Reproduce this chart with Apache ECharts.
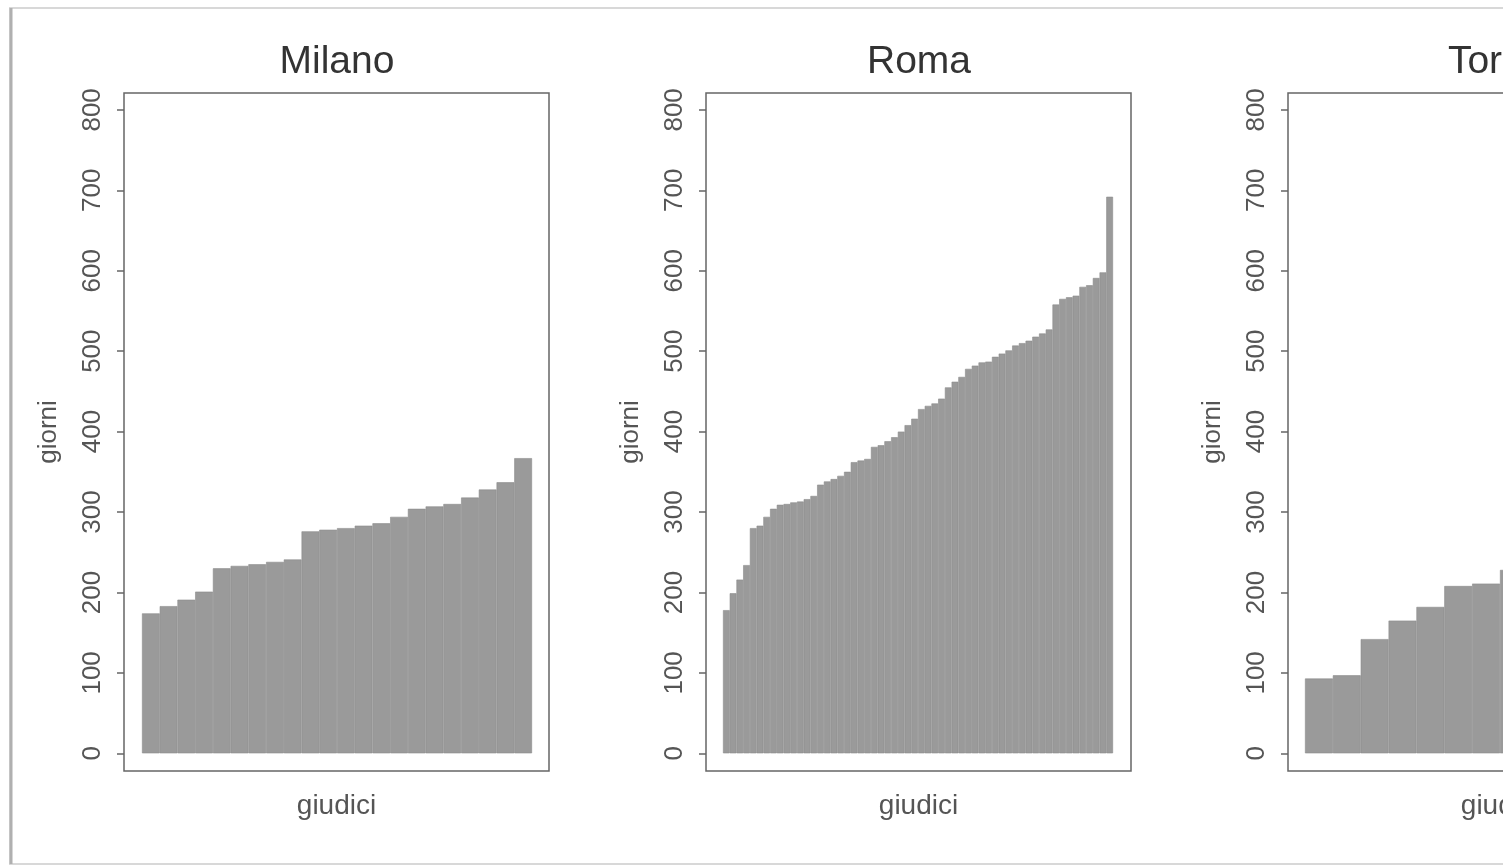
<!DOCTYPE html>
<html>
<head>
<meta charset="utf-8">
<script src="https://cdn.jsdelivr.net/npm/echarts@6/dist/echarts.min.js"></script>
<style>
  html, body { margin: 0; padding: 0; background: #fff; overflow: hidden; }
  /* the figure is wider than the window: Torino is cut off on the right */
  #box { width: 1800px; height: 867px; }
</style>
</head>
<body>
<div id="box"></div>
<script>
var titles = ['Milano', 'Roma', 'Torino'];
var yTicks = [0, 100, 200, 300, 400, 500, 600, 700, 800];

var milano = [174, 183, 191, 201, 230, 233, 235, 238, 241, 276, 278, 280, 283, 286,
              294, 304, 307, 310, 318, 328, 337, 367];
var roma = [178, 199, 216, 234, 280, 283, 294, 304, 309, 310, 312, 313, 316, 320,
            334, 338, 341, 345, 350, 362, 364, 366, 381, 383, 388, 393, 400, 408,
            416, 428, 432, 435, 441, 455, 462, 468, 478, 482, 486, 487, 493, 497,
            501, 507, 510, 513, 518, 522, 527, 558, 565, 567, 569, 580, 582, 591,
            598, 692];
// only the first 8 bars of Torino are visible, the rest is cut off
var torino = [93, 97, 142, 165, 182, 208, 211, 228, null, null, null, null, null, null];

var panels = [milano, roma, torino];
var frameLeft = [124, 706, 1288];
var barLeft = [142, 723, 1305];

var myChart = echarts.init(document.getElementById('box'));

var grid = [], xAxis = [], yAxis = [], series = [], title = [];

panels.forEach(function (vals, p) {
  var cats = vals.map(function (v, i) { return String(i + 1); });
  // frame grid (box, y ticks, axis names)
  grid.push({
    left: frameLeft[p], top: 93, width: 425, height: 678,
    show: true, borderColor: '#666', borderWidth: 1.5, backgroundColor: 'transparent'
  });
  // data grid (bars, inset like R)
  grid.push({
    left: barLeft[p], top: 93, width: 390, height: 678
  });
  xAxis.push({
    gridIndex: 2 * p, type: 'value', min: 0, max: 1,
    axisLine: { show: false }, axisTick: { show: false },
    axisLabel: { show: false }, splitLine: { show: false },
    name: 'giudici', nameLocation: 'middle', nameGap: 21,
    nameTextStyle: { fontSize: 28, color: '#555', fontFamily: 'Liberation Sans' }
  });
  xAxis.push({
    gridIndex: 2 * p + 1, type: 'category', data: cats, show: false
  });
  yAxis.push({
    gridIndex: 2 * p, type: 'value', min: -22, max: 821,
    axisLine: { show: false },
    axisTick: { show: true, customValues: yTicks, length: 7, lineStyle: { color: '#666', width: 1.5 } },
    axisLabel: { customValues: yTicks, rotate: 90, fontSize: 26, color: '#555', margin: 18,
                 fontFamily: 'Liberation Sans' },
    splitLine: { show: false },
    name: 'giorni', nameLocation: 'middle', nameGap: 62, nameRotate: 90,
    nameTextStyle: { fontSize: 26, color: '#555', fontFamily: 'Liberation Sans' }
  });
  yAxis.push({
    gridIndex: 2 * p + 1, type: 'value', min: -22, max: 821, show: false
  });
  series.push({
    type: 'bar', xAxisIndex: 2 * p + 1, yAxisIndex: 2 * p + 1,
    data: vals, barCategoryGap: 0, silent: true,
    itemStyle: { color: '#9a9a9a', borderColor: '#8c8c8c', borderWidth: 0.6 }
  });
  title.push({
    text: titles[p], left: frameLeft[p] + 208, top: 38, textAlign: 'center',
    textStyle: { fontSize: 39, fontWeight: 'normal', color: '#333', fontFamily: 'Liberation Sans' }
  });
});

option = {
  backgroundColor: '#fff',
  animation: false,
  title: title,
  grid: grid,
  xAxis: xAxis,
  yAxis: yAxis,
  series: series,
  graphic: [
    { type: 'rect', shape: { x: 10, y: 8, width: 1700, height: 856 },
      style: { fill: 'none', stroke: '#d8d8d8', lineWidth: 2 }, silent: true },
    { type: 'line', shape: { x1: 11, y1: 8, x2: 11, y2: 864 },
      style: { stroke: '#b0b0b0', lineWidth: 3 }, silent: true }
  ]
};
myChart.setOption(option);
</script>
</body>
</html>
